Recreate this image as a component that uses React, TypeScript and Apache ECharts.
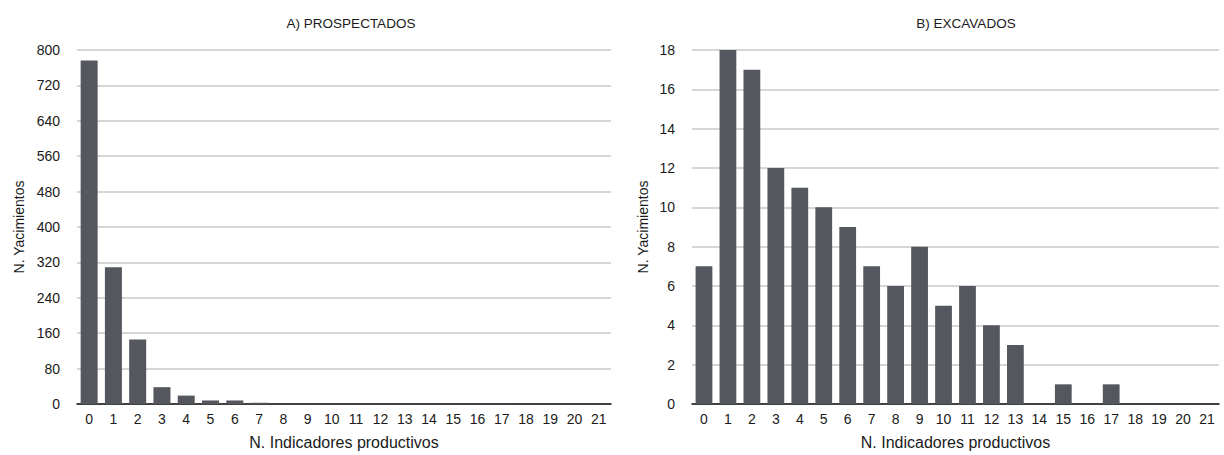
import React, { useEffect, useRef } from "react";
import * as echarts from "echarts";

// Number of productive indicators per site (0..21)
const categories: string[] = [
  "0", "1", "2", "3", "4", "5", "6", "7", "8", "9", "10",
  "11", "12", "13", "14", "15", "16", "17", "18", "19", "20", "21",
];

// A) surveyed sites
const prospectados: number[] = [776, 309, 146, 38, 19, 8, 8, 3, 0, 0, 0, 0, 0, 0, 0, 0, 0, 0, 0, 0, 0, 0];

// B) excavated sites
const excavados: number[] = [7, 18, 17, 12, 11, 10, 9, 7, 6, 8, 5, 6, 4, 3, 0, 1, 0, 1, 0, 0, 0, 0];

const titles: string[] = ["A) PROSPECTADOS", "B) EXCAVADOS"];
const xName = "N. Indicadores productivos";
const yName = "N. Yacimientos";

const FONT = "'Liberation Sans', Arial, Helvetica, sans-serif";
const INK = "#1a1a1a";
const BAR = "#55575e";

export default function App() {
  const ref = useRef<HTMLDivElement>(null);

  useEffect(() => {
    if (!ref.current) return;
    const chart = echarts.init(ref.current, undefined, { renderer: "svg" });

    const xAxisBase = (gridIndex: number) => ({
      type: "category" as const,
      gridIndex,
      data: categories,
      name: xName,
      nameLocation: "middle" as const,
      nameGap: 30,
      nameTextStyle: { fontFamily: FONT, fontSize: 16, color: INK },
      axisLine: { show: true, lineStyle: { color: "#111", width: 1.5 } },
      axisTick: { show: false },
      axisLabel: { fontFamily: FONT, fontSize: 14, color: INK, margin: 8, interval: 0 },
    });

    const yAxisBase = (gridIndex: number, max: number, interval: number, gap: number) => ({
      type: "value" as const,
      gridIndex,
      min: 0,
      max,
      interval,
      name: yName,
      nameLocation: "middle" as const,
      nameGap: gap,
      nameTextStyle: { fontFamily: FONT, fontSize: 14, color: INK },
      axisLine: { show: false },
      axisTick: { show: false },
      axisLabel: { fontFamily: FONT, fontSize: 14, color: INK, margin: 17 },
      splitLine: { show: true, lineStyle: { color: "#c8c8c8", width: 1.5 } },
    });

    const titleStyle = { fontFamily: FONT, fontSize: 13.5, fontWeight: "normal" as const, color: INK };

    chart.setOption({
      animation: false,
      backgroundColor: "#ffffff",
      title: [
        { text: titles[0], left: 346, top: 11, textAlign: "center", textStyle: titleStyle },
        { text: titles[1], left: 961, top: 11, textAlign: "center", textStyle: titleStyle },
      ],
      grid: [
        { left: 77, right: 613, top: 50, bottom: 48 },
        { left: 692, right: 5, top: 50, bottom: 48 },
      ],
      xAxis: [xAxisBase(0), xAxisBase(1)],
      yAxis: [yAxisBase(0, 800, 80, 51), yAxisBase(1, 18, 2, 42)],
      series: [
        {
          type: "bar",
          xAxisIndex: 0,
          yAxisIndex: 0,
          data: prospectados,
          barCategoryGap: "30%",
          itemStyle: { color: BAR },
        },
        {
          type: "bar",
          xAxisIndex: 1,
          yAxisIndex: 1,
          data: excavados,
          barCategoryGap: "30%",
          itemStyle: { color: BAR },
        },
      ],
    });

    return () => chart.dispose();
  }, []);

  return (
    <div
      ref={ref}
      style={{ position: "absolute", left: 0, top: 0, width: 1224, height: 455 }}
    />
  );
}
